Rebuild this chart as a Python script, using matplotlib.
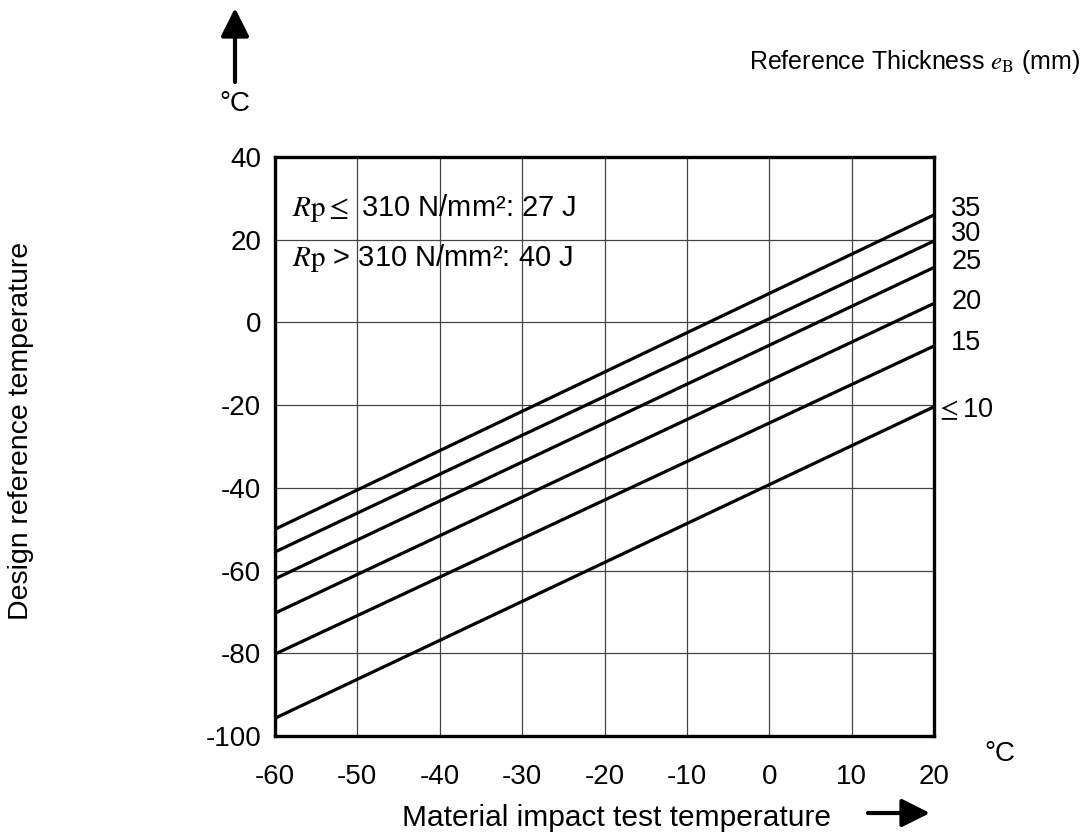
import numpy as np
import matplotlib.pyplot as plt

plt.rcParams['font.family'] = ['Liberation Sans', 'DejaVu Sans']
plt.rcParams['mathtext.fontset'] = 'stix'
plt.rcParams['axes.unicode_minus'] = False

# Datos: extremos de cada recta (x = -60 y x = 20)
x_ends = [-60, 20]
thickness_labels = ['35', '30', '25', '20', '15', r'$\leq$10']
y_left = [-50.0, -55.5, -62.0, -70.3, -80.2, -95.7]
y_right = [26.0, 19.7, 13.3, 4.6, -5.7, -20.4]
label_y = [27.5, 21.4, 14.6, 4.9, -5.0, -21.2]

x_ticks = [-60, -50, -40, -30, -20, -10, 0, 10, 20]
y_ticks = [40, 20, 0, -20, -40, -60, -80, -100]

W, H = 1085, 838
fig = plt.figure(figsize=(W / 100, H / 100), dpi=100)
ax = fig.add_axes([275 / W, 1 - 736 / H, (934 - 275) / W, (736 - 157) / H])

ax.set_xlim(-60, 20)
ax.set_ylim(-100, 40)
ax.set_xticks(x_ticks)
ax.set_yticks(y_ticks)
ax.grid(True, color='#444444', lw=0.9)
ax.tick_params(length=0, labelsize=20, pad=10)
ax.tick_params(axis='x', pad=20)
for s in ax.spines.values():
    s.set_linewidth(2.4)

for yl, yr in zip(y_left, y_right):
    ax.plot(x_ends, [yl, yr], color='black', lw=2.3, solid_capstyle='butt', clip_on=False)

# Etiquetas de espesor a la derecha
for lab, ly in zip(thickness_labels, label_y):
    xt = 20.2 if lab.startswith('$') else 22.1
    ax.text(xt, ly, lab, fontsize=19.5, va='center', ha='left', clip_on=False)

ax.text(-57.9, 27.7, r'$\mathit{R}\mathrm{p}\leq$ 310 N/mm²: 27 J', fontsize=21, va='center')
ax.text(-57.9, 15.6, r'$\mathit{R}\mathrm{p}$ > 310 N/mm²: 40 J', fontsize=21, va='center')

# Textos fuera del eje
fig.text(1080 / W, 1 - 62 / H, r'Reference Thickness $\mathit{e}_{\mathrm{B}}$ (mm)', fontsize=18,
         ha='right', va='center')
fig.text(235 / W, 1 - 104 / H, '°C', fontsize=20, ha='center', va='center')
fig.text(1000 / W, 1 - 754 / H, '°C', fontsize=20, ha='center', va='center')
fig.text(616 / W, 1 - 818 / H, 'Material impact test temperature', fontsize=21.5,
         ha='center', va='center')
fig.text(21 / W, 1 - 431 / H, 'Design reference temperature', fontsize=20.5,
         ha='center', va='center', rotation=90)

# Flechas
arrow = dict(arrowstyle='-|>', lw=3, color='black', mutation_scale=43, shrinkA=0, shrinkB=0)
ax.annotate('', xy=(235 / W, 1 - 8 / H), xytext=(235 / W, 1 - 82 / H),
            xycoords='figure fraction', textcoords='figure fraction', arrowprops=arrow,
            annotation_clip=False)
ax.annotate('', xy=(930 / W, 1 - 813 / H), xytext=(868 / W, 1 - 813 / H),
            xycoords='figure fraction', textcoords='figure fraction', arrowprops=arrow,
            annotation_clip=False)

fig.savefig('out.png', dpi=100)
